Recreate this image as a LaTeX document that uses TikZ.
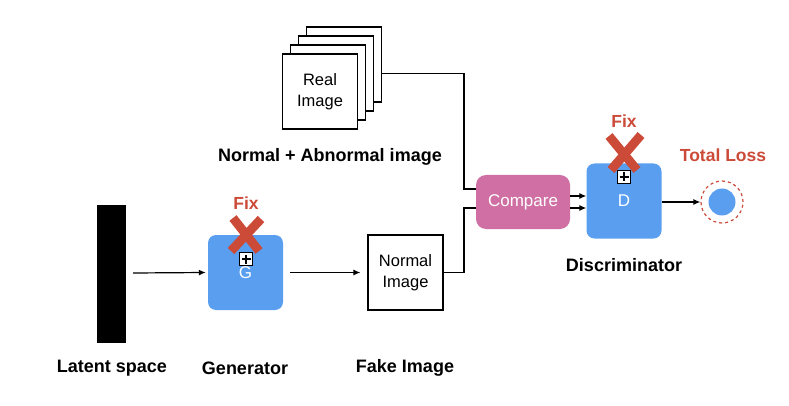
\documentclass[tikz,border=0pt]{standalone}
\usepackage{fontspec}
\setmainfont{Liberation Sans}
\usetikzlibrary{arrows.meta,calc}
\definecolor{bl}{HTML}{5A9EF0}
\definecolor{pk}{HTML}{CF6FA3}
\definecolor{rd}{HTML}{CB4A38}
\begin{document}
\begin{tikzpicture}[x=1pt,y=-1pt,
 lbl/.style={font=\fontsize{18}{20}\selectfont\bfseries},
 imgbox/.style={draw,fill=white,minimum width=75pt,minimum height=75pt,align=center,font=\fontsize{16.5}{21}\selectfont,line width=1.2pt},
 bluebox/.style={fill=bl,rounded corners=8pt,minimum width=75pt,minimum height=75pt,text=white,font=\fontsize{17}{20}\selectfont},
 arr/.style={-{Latex[length=7pt,width=6pt]},line width=1.2pt},
 ln/.style={line width=1.2pt},
 fixlbl/.style={text=rd,font=\fontsize{17.5}{20}\selectfont\bfseries},
 plusbox/.style={draw,fill=white,minimum size=13pt,inner sep=0pt,line width=1.2pt},
 xmark/.style={draw=rd,line width=9pt,line cap=butt}
]
\useasboundingbox (0,0) rectangle (789,406);
% latent bar
\node[fill=black,minimum width=29pt,minimum height=138pt,inner sep=0pt] (bar) at (111.5,274) {};
\node[lbl] (latl) at (112,368) {Latent space};
% generator
\node[bluebox] (G) at (245.5,272.5) {G};
\node[lbl] (genl) at (245,368) {Generator};
\draw[xmark] (233,218) -- (259,251);
\draw[xmark] (261,219) -- (231,251);
\node[plusbox] (Gp) at (246,259) {};
\draw[line width=1.2pt] ($(Gp.center)+(0,-4.5)$) -- ($(Gp.center)+(0,4.5)$);
\draw[line width=1.2pt] ($(Gp.center)+(-4.5,0)$) -- ($(Gp.center)+(4.5,0)$);
\node[fixlbl] (Gfix) at (246,203) {Fix};
% normal image
\node[imgbox] (ni) at (405.5,272.5) {Normal\\Image};
\node[lbl] (fakel) at (405,368) {Fake Image};
% real image stack
\node[imgbox] (r4) at (344,64.5) {};
\node[imgbox] (r3) at (336,73.5) {};
\node[imgbox] (r2) at (328,82.5) {};
\node[imgbox] (r1) at (320,91.5) {Real\\Image};
\node[lbl] (nal) at (330,157) {Normal + Abnormal image};
% compare
\node[fill=pk,rounded corners=10pt,minimum width=94pt,minimum height=54pt,text=white,font=\fontsize{17}{20}\selectfont] (cmp) at (523,202) {Compare};
% discriminator
\node[bluebox] (D) at (624,201) {D};
\node[lbl] (discl) at (624,265) {Discriminator};
\draw[xmark] (609,136) -- (637,170);
\draw[xmark] (641,135) -- (611,170);
\node[plusbox] (Dp) at (624,177) {};
\draw[line width=1.2pt] ($(Dp.center)+(0,-4.5)$) -- ($(Dp.center)+(0,4.5)$);
\draw[line width=1.2pt] ($(Dp.center)+(-4.5,0)$) -- ($(Dp.center)+(4.5,0)$);
\node[fixlbl] (Dfix) at (624,121) {Fix};
% loss
\node[circle,draw=rd,dashed,dash pattern=on 3pt off 3pt,line width=1.2pt,minimum size=42pt,inner sep=0pt] (ring) at (722,202) {};
\node[circle,fill=bl,minimum size=27pt,inner sep=0pt] (loss) at (722,202) {};
\node[fixlbl] (totl) at (723,155) {Total Loss};
% connectors
\coordinate (j1) at (464,189);
\coordinate (j2) at (464,208);
\draw[arr] ($(bar.east)+(7,-1)$) -- ($(G.west)+(-2,0)$);
\draw[arr] ($(G.east)+(7,0)$) -- ($(ni.west)+(-7,0)$);
\draw[ln] ($(r4.east)+(0,9)$) -| (j1) -- (cmp.west |- j1);
\draw[ln] (ni.east) -| (j2) -- (cmp.west |- j2);
\draw[arr] (cmp.east |- 0,196) -- (D.west |- 0,196);
\draw[arr] (cmp.east |- 0,208) -- (D.west |- 0,208);
\draw[arr] (D.east |- 0,202) -- (ring.west);
\end{tikzpicture}
\end{document}
